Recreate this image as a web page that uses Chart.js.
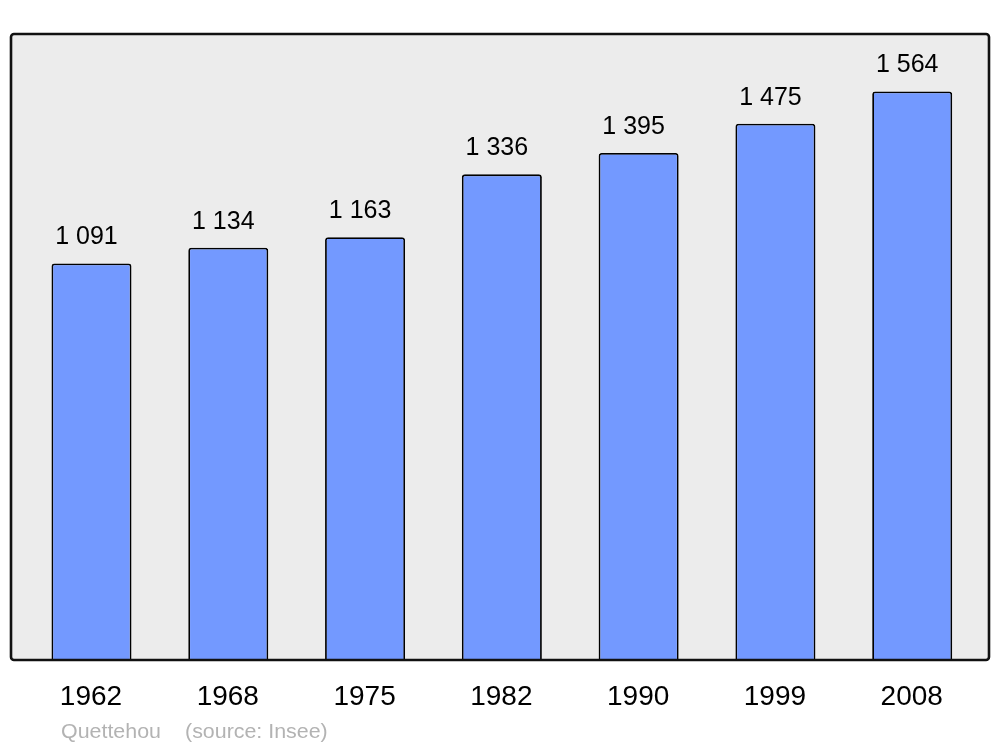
<!DOCTYPE html>
<html>
<head>
<meta charset="utf-8">
<script src="https://cdn.jsdelivr.net/npm/chart.js@4/dist/chart.umd.min.js"></script>
<style>
  html, body { margin: 0; padding: 0; background: #ffffff; }
  #wrap { width: 1000px; height: 747px; }
</style>
</head>
<body>
<div id="wrap"><canvas id="c" width="1000" height="747"></canvas></div>
<script>
const years = ['1962', '1968', '1975', '1982', '1990', '1999', '2008'];
const population = [1091, 1134, 1163, 1336, 1395, 1475, 1564];
const placeName = 'Quettehou';
const sourceNote = '(source: Insee)';

function fmt(v) {
  return String(v).replace(/\B(?=(\d{3})+(?!\d))/g, ' ');
}

function stretchedText(ctx, text, x, y, sx, align) {
  ctx.save();
  ctx.translate(x, y);
  ctx.scale(sx, 1);
  ctx.textAlign = align;
  ctx.fillText(text, 0, 0);
  ctx.restore();
}

function framePath(ctx) {
  const x0 = 11, y0 = 34, x1 = 989, y1 = 660, r = 3;
  ctx.beginPath();
  ctx.moveTo(x0 + r, y0);
  ctx.lineTo(x1 - r, y0);
  ctx.arcTo(x1, y0, x1, y0 + r, r);
  ctx.lineTo(x1, y1 - r);
  ctx.arcTo(x1, y1, x1 - r, y1, r);
  ctx.lineTo(x0 + r, y1);
  ctx.arcTo(x0, y1, x0, y1 - r, r);
  ctx.lineTo(x0, y0 + r);
  ctx.arcTo(x0, y0, x0 + r, y0, r);
  ctx.closePath();
}

const framePlugin = {
  id: 'frame',
  beforeDraw(chart) {
    const ctx = chart.ctx;
    ctx.save();
    ctx.fillStyle = '#ffffff';
    ctx.fillRect(0, 0, chart.width, chart.height);
    framePath(ctx);
    ctx.fillStyle = '#ececec';
    ctx.fill();
    ctx.restore();
  },
  afterDatasetsDraw(chart) {
    const ctx = chart.ctx;
    ctx.save();
    framePath(ctx);
    ctx.lineWidth = 2.6;
    ctx.strokeStyle = '#111111';
    ctx.stroke();

    const xs = chart.scales.x;
    const ys = chart.scales.y;
    const meta = chart.getDatasetMeta(0);
    ctx.fillStyle = '#000000';
    ctx.textBaseline = 'alphabetic';
    // value labels
    ctx.font = '25px "Liberation Sans", Arial, sans-serif';
    meta.data.forEach((bar, i) => {
      stretchedText(ctx, fmt(population[i]), bar.x - 5, ys.getPixelForValue(population[i]) - 19, 1.0, 'center');
    });
    // category labels
    ctx.font = '28px "Liberation Sans", Arial, sans-serif';
    years.forEach((y, i) => {
      stretchedText(ctx, y, xs.getPixelForValue(i) - 0.5, 705, 1.0, 'center');
    });
    // footer
    ctx.fillStyle = '#b3b3b3';
    ctx.font = '20px "Liberation Sans", Arial, sans-serif';
    stretchedText(ctx, placeName, 61, 738, 1.07, 'left');
    stretchedText(ctx, sourceNote, 185, 738, 1.07, 'left');
    ctx.restore();
  }
};

new Chart(document.getElementById('c'), {
  type: 'bar',
  data: {
    labels: years,
    datasets: [{
      data: population,
      backgroundColor: '#7399ff',
      borderColor: '#000000',
      borderWidth: 1.8,
      borderSkipped: 'bottom',
      borderRadius: { topLeft: 3, topRight: 3, bottomLeft: 0, bottomRight: 0 },
      barPercentage: 0.585,
      categoryPercentage: 1.0
    }]
  },
  options: {
    responsive: false,
    animation: false,
    devicePixelRatio: 1,
    layout: { padding: { left: 23.1, right: 19.4, top: 34.4, bottom: 87 } },
    plugins: { legend: { display: false }, tooltip: { enabled: false }, title: { display: false } },
    scales: {
      x: { type: 'category', display: false, offset: true, grid: { display: false } },
      y: { display: false, min: 0, max: 1721, grid: { display: false } }
    }
  },
  plugins: [framePlugin]
});
</script>
</body>
</html>
